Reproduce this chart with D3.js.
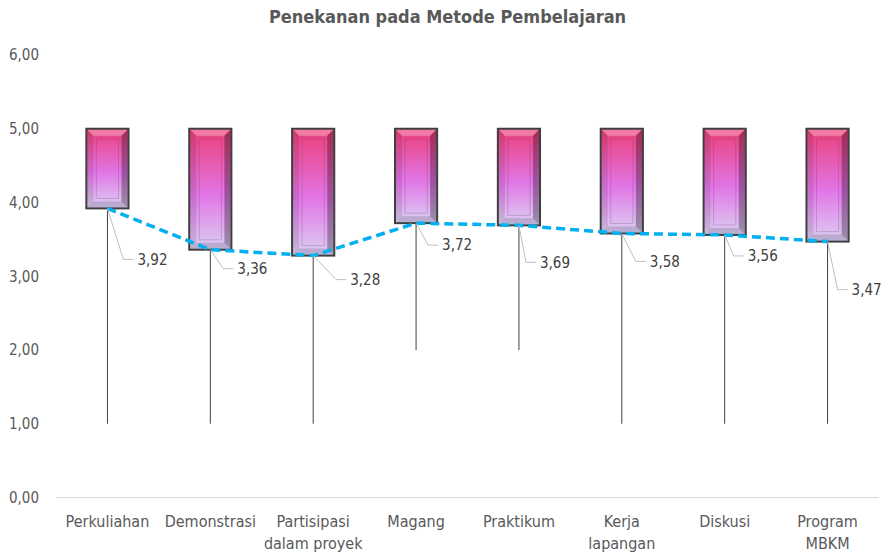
<!DOCTYPE html>
<html>
<head>
<meta charset="utf-8">
<script src="https://cdn.jsdelivr.net/npm/d3@7"></script>
<style>
  body { margin: 0; background: #fff; }
  text { font-family: "Liberation Sans Narrow", "DejaVu Sans Condensed", sans-serif; }
</style>
</head>
<body>
<div class="container"></div>
<script>
const categories = ["Perkuliahan", "Demonstrasi", "Partisipasi\ndalam proyek", "Magang", "Praktikum", "Kerja\nlapangan", "Diskusi", "Program\nMBKM"];
const meanValues = [3.92, 3.36, 3.28, 3.72, 3.69, 3.58, 3.56, 3.47];
const highValues = [5, 5, 5, 5, 5, 5, 5, 5];
const lowValues = [1, 1, 1, 2, 2, 1, 1, 1];
const yTicks = [0, 1, 2, 3, 4, 5, 6];

// where each data label's leader line bends (px from the point)
const labelNudge = [[16, 51], [13, 19], [23, 24], [12, 22], [7, 37], [14, 28], [9, 21], [10, 48]];

const width = 893;
const height = 552;
const margin = { top: 55, bottom: 54.5, left: 56, right: 14 }

const svg = d3.select(".container")
    .append("svg")
    .attr("width", width)
    .attr("height", height)

const x = d3.scaleBand()
    .domain(categories)
    .range([margin.left, width - margin.right])

const y = d3.scaleLinear()
    .domain([0, 6])
    .range([height - margin.bottom, margin.top])

const defs = svg.append("defs")
const grad = defs.append("linearGradient")
    .attr("id", "boxFill")
    .attr("x1", 0).attr("y1", 0).attr("x2", 0).attr("y2", 1)
grad.append("stop").attr("offset", "0%").attr("stop-color", "#ec3f78")
grad.append("stop").attr("offset", "55%").attr("stop-color", "#e176e6")
grad.append("stop").attr("offset", "100%").attr("stop-color", "#dbd0f2")

// title
svg.append("text")
    .attr("x", width / 2 + 1)
    .attr("y", 23)
    .attr("text-anchor", "middle")
    .attr("font-size", 18)
    .attr("font-weight", "bold")
    .attr("fill", "#595959")
    .text("Penekanan pada Metode Pembelajaran")

// y axis labels
const yAxis = svg.append("g")
    .attr("transform", `translate(${margin.left - 17},0)`)
    .call(d3.axisLeft(y).tickValues(yTicks).tickSize(0).tickFormat(d => d3.format(".2f")(d).replace(".", ",")))
yAxis.select(".domain").remove()
yAxis.selectAll("text")
    .attr("font-size", 15)
    .attr("fill", "#595959")
    .attr("x", 0)

// baseline
svg.append("line")
    .attr("x1", margin.left).attr("x2", width - margin.right)
    .attr("y1", y(0)).attr("y2", y(0))
    .attr("stroke", "#d9d9d9")
    .attr("stroke-width", 1)

// x axis labels
const xLabels = svg.append("g")
    .selectAll("text")
    .data(categories)
    .join("text")
    .attr("x", d => x(d) + x.bandwidth() / 2)
    .attr("y", y(0) + 29)
    .attr("text-anchor", "middle")
    .attr("font-size", 16)
    .attr("fill", "#595959")
xLabels.selectAll("tspan")
    .data(d => d.split("\n"))
    .join("tspan")
    .attr("x", function () { return d3.select(this.parentNode).attr("x") })
    .attr("dy", (d, i) => i ? 22 : 0)
    .text(d => d)

const boxW = x.bandwidth() * 0.41
const cx = i => x(categories[i]) + x.bandwidth() / 2

// whiskers
svg.append("g")
    .selectAll("line")
    .data(meanValues)
    .join("line")
    .attr("x1", (d, i) => cx(i)).attr("x2", (d, i) => cx(i))
    .attr("y1", (d, i) => y(lowValues[i]))
    .attr("y2", d => y(d))
    .attr("stroke", "#404040")
    .attr("stroke-width", 1)

// boxes with bevel
const boxes = svg.append("g")
    .selectAll("g")
    .data(meanValues)
    .join("g")
    .attr("transform", (d, i) => `translate(${cx(i) - boxW / 2},${y(highValues[i])})`)

boxes.append("rect")
    .attr("width", boxW)
    .attr("height", (d, i) => y(d) - y(highValues[i]))
    .attr("fill", "url(#boxFill)")
    .attr("stroke", "#3f3f3f")
    .attr("stroke-width", 2)

const bev = 6
boxes.each(function (d, i) {
    const g = d3.select(this)
    const w = boxW - 2
    const h = y(d) - y(highValues[i]) - 2
    const o = 1
    const pts = [
        [[o, o], [o + w, o], [o + w - bev, o + bev], [o + bev, o + bev], "rgba(255,255,255,0.3)"],
        [[o + w, o], [o + w, o + h], [o + w - bev, o + h - bev], [o + w - bev, o + bev], "rgba(0,0,0,0.3)"],
        [[o, o + h], [o + w, o + h], [o + w - bev, o + h - bev], [o + bev, o + h - bev], "rgba(70,70,90,0.22)"],
        [[o, o], [o, o + h], [o + bev, o + h - bev], [o + bev, o + bev], "rgba(0,0,0,0.1)"]
    ]
    pts.forEach(p => {
        g.append("polygon")
            .attr("points", p.slice(0, 4).map(q => q.join(",")).join(" "))
            .attr("fill", p[4])
    })
    g.append("rect")
        .attr("x", o + bev + 3).attr("y", o + bev + 3)
        .attr("width", w - 2 * bev - 6).attr("height", h - 2 * bev - 6)
        .attr("fill", "none")
        .attr("stroke", "rgba(90,40,90,0.22)")
        .attr("stroke-width", 1)
})

// mean line
const line = d3.line()
    .x((d, i) => cx(i))
    .y(d => y(d))

svg.append("path")
    .datum(meanValues)
    .attr("d", line)
    .attr("fill", "none")
    .attr("stroke", "#00b0f0")
    .attr("stroke-width", 3.5)
    .attr("stroke-dasharray", "9,5")

// data labels with leader lines
const labels = svg.append("g")
    .selectAll("g")
    .data(meanValues)
    .join("g")

labels.append("polyline")
    .attr("points", (d, i) => {
        const px = cx(i), py = y(d)
        const bx = px + labelNudge[i][0], by = py + labelNudge[i][1]
        return `${px},${py} ${bx},${by} ${bx + 10},${by}`
    })
    .attr("fill", "none")
    .attr("stroke", "#bfbfbf")
    .attr("stroke-width", 1)

labels.append("text")
    .attr("x", (d, i) => cx(i) + labelNudge[i][0] + 14)
    .attr("y", (d, i) => y(d) + labelNudge[i][1])
    .attr("dy", "0.35em")
    .attr("font-family", "'Open Sans', sans-serif")
    .attr("font-size", 15)
    .attr("fill", "#404040")
    .text(d => d3.format(".2f")(d).replace(".", ","))
</script>
</body>
</html>
